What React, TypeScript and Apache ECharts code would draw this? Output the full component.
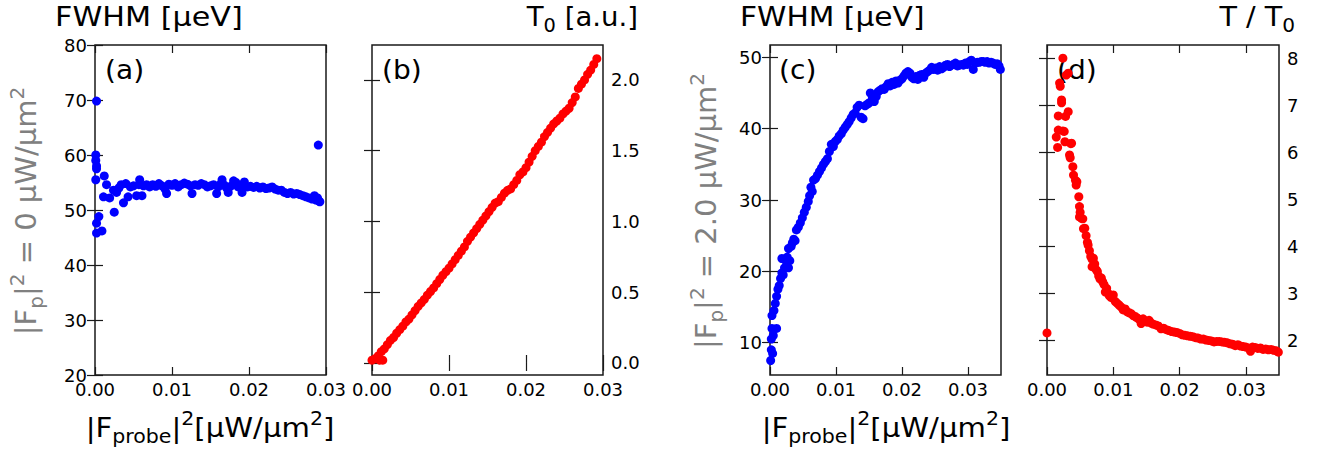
import React, { useEffect, useRef } from "react";
import * as echarts from "echarts";

// ---------- data ----------
// (a) FWHM [µeV] vs |F_probe|^2, |Fp|^2 = 0
const panelA: [number, number][] = [
  [0.0002, 69.8], [0.0001, 60.0], [0.0001, 59.0], [0.0002, 58.0], [0.0002, 57.5], [0.0001, 55.5],
  [0.0005, 48.8], [0.0002, 47.6], [0.0002, 45.8], [0.0009, 46.2], [0.0012, 56.2], [0.0015, 54.6],
  [0.0011, 52.4], [0.0019, 52.2], [0.0025, 49.6], [0.0024, 53.6], [0.0028, 53.2], [0.0031, 54.0],
  [0.0034, 54.6], [0.0037, 51.3], [0.0040, 54.8], [0.0043, 52.4], [0.0046, 54.2], [0.0050, 54.4],
  [0.0054, 52.6], [0.0057, 54.6], [0.0058, 55.5], [0.0061, 52.6], [0.0063, 54.4], [0.0067, 54.6],
  [0.0071, 54.2], [0.0075, 54.6], [0.0079, 54.3], [0.0083, 54.8], [0.0087, 54.4], [0.0091, 53.8],
  [0.0093, 53.0], [0.0096, 54.7], [0.0100, 54.5], [0.0104, 54.8], [0.0108, 54.2], [0.0112, 54.6],
  [0.0116, 54.9], [0.0120, 54.7], [0.0124, 54.4], [0.0126, 53.0], [0.0130, 54.6], [0.0134, 54.5],
  [0.0138, 54.8], [0.0142, 54.6], [0.0146, 54.2], [0.0150, 54.4], [0.0154, 54.6], [0.0158, 53.0],
  [0.0160, 54.2], [0.0163, 54.7], [0.0165, 55.5], [0.0168, 54.5], [0.0171, 54.0], [0.0173, 53.2],
  [0.0176, 54.3], [0.0180, 55.3], [0.0183, 55.0], [0.0186, 54.2], [0.0190, 54.5], [0.0191, 53.2],
  [0.0194, 55.1], [0.0198, 54.2], [0.0202, 54.3], [0.0206, 54.1], [0.0210, 54.3], [0.0214, 54.0],
  [0.0218, 54.2], [0.0222, 53.9], [0.0226, 54.0], [0.0230, 54.2], [0.0234, 53.8], [0.0238, 53.6],
  [0.0242, 53.6], [0.0246, 53.2], [0.0250, 53.0], [0.0254, 53.2], [0.0258, 52.9], [0.0262, 53.0],
  [0.0266, 52.8], [0.0270, 52.6], [0.0274, 52.4], [0.0278, 52.2], [0.0282, 52.0], [0.0285, 52.6],
  [0.0287, 51.8], [0.0289, 52.2], [0.0291, 51.6], [0.0292, 51.5], [0.0290, 61.8],
];

// (b) T0 [a.u.] vs |F_probe|^2
const panelB: [number, number][] = [
  [0.0000, 0.02], [0.0004, 0.03], [0.0008, 0.05], [0.0010, 0.02], [0.0012, 0.08], [0.0014, 0.02],
  [0.0016, 0.10], [0.0020, 0.13], [0.0024, 0.16], [0.0028, 0.18], [0.0032, 0.21], [0.0036, 0.235],
  [0.0040, 0.26], [0.0044, 0.29], [0.0048, 0.31], [0.0052, 0.34], [0.0056, 0.37], [0.0060, 0.40],
  [0.0064, 0.425], [0.0068, 0.45], [0.0072, 0.48], [0.0076, 0.505], [0.0080, 0.53], [0.0084, 0.56],
  [0.0088, 0.59], [0.0092, 0.62], [0.0096, 0.645], [0.0100, 0.67], [0.0104, 0.70], [0.0108, 0.73],
  [0.0112, 0.76], [0.0116, 0.79], [0.0120, 0.82], [0.0124, 0.86], [0.0128, 0.89], [0.0132, 0.92],
  [0.0136, 0.95], [0.0140, 0.98], [0.0144, 1.01], [0.0148, 1.04], [0.0152, 1.07], [0.0156, 1.10],
  [0.0160, 1.13], [0.0164, 1.14], [0.0168, 1.17], [0.0172, 1.20], [0.0176, 1.22], [0.0180, 1.23],
  [0.0184, 1.26], [0.0188, 1.29], [0.0192, 1.33], [0.0196, 1.35], [0.0200, 1.38], [0.0204, 1.42],
  [0.0208, 1.46], [0.0212, 1.50], [0.0216, 1.53], [0.0220, 1.56], [0.0224, 1.60], [0.0228, 1.63],
  [0.0232, 1.66], [0.0236, 1.69], [0.0240, 1.71], [0.0244, 1.73], [0.0248, 1.76], [0.0252, 1.78],
  [0.0256, 1.80], [0.0260, 1.84], [0.0264, 1.88], [0.0268, 1.94], [0.0272, 1.97], [0.0276, 2.00],
  [0.0280, 2.04], [0.0284, 2.07], [0.0288, 2.11], [0.0292, 2.15],
];

// (c) FWHM [µeV] vs |F_probe|^2, |Fp|^2 = 2.0
const panelC: [number, number][] = [
  [0.0001, 7.5], [0.0002, 9.0], [0.0002, 10.5], [0.0003, 12.0], [0.0003, 13.8], [0.0004, 8.5],
  [0.0005, 11.0], [0.0006, 14.5], [0.0008, 15.5], [0.0010, 12.0], [0.0010, 16.5], [0.0012, 17.5],
  [0.0014, 18.0], [0.0016, 19.0], [0.0018, 19.8], [0.0018, 21.8], [0.0020, 19.5], [0.0022, 20.5],
  [0.0024, 21.5], [0.0026, 22.0], [0.0028, 23.2], [0.0028, 20.5], [0.0030, 21.5], [0.0032, 23.5],
  [0.0034, 24.0], [0.0036, 24.5], [0.0038, 24.3], [0.0040, 25.8], [0.0043, 26.2], [0.0046, 26.8],
  [0.0049, 27.5], [0.0052, 28.3], [0.0055, 29.0], [0.0058, 29.8], [0.0060, 30.6], [0.0062, 31.8],
  [0.0064, 31.2], [0.0066, 32.8], [0.0069, 33.0], [0.0072, 33.5], [0.0075, 34.0], [0.0078, 34.5],
  [0.0081, 35.0], [0.0084, 35.4], [0.0087, 35.8], [0.0090, 36.8], [0.0093, 37.8], [0.0096, 37.5],
  [0.0099, 38.2], [0.0102, 38.5], [0.0105, 39.0], [0.0108, 39.3], [0.0111, 39.8], [0.0114, 40.2],
  [0.0117, 40.6], [0.0120, 41.0], [0.0123, 41.5], [0.0126, 42.0], [0.0129, 42.2], [0.0132, 43.0],
  [0.0135, 43.3], [0.0138, 41.6], [0.0141, 41.4], [0.0144, 43.2], [0.0147, 43.4], [0.0150, 43.6],
  [0.0152, 45.0], [0.0155, 44.2], [0.0158, 43.8], [0.0161, 44.5], [0.0164, 45.2], [0.0167, 45.4],
  [0.0170, 45.6], [0.0173, 45.5], [0.0176, 45.9], [0.0179, 46.3], [0.0182, 46.0], [0.0185, 46.5],
  [0.0188, 46.2], [0.0191, 46.7], [0.0194, 46.4], [0.0197, 46.8], [0.0200, 47.0], [0.0203, 47.4],
  [0.0206, 47.8], [0.0209, 48.0], [0.0212, 47.8], [0.0215, 47.2], [0.0218, 47.0], [0.0221, 47.3],
  [0.0224, 46.9], [0.0227, 47.5], [0.0230, 47.6], [0.0233, 47.2], [0.0236, 47.8], [0.0239, 48.0],
  [0.0242, 48.2], [0.0245, 48.6], [0.0248, 48.3], [0.0251, 48.5], [0.0254, 48.2], [0.0257, 48.7],
  [0.0260, 48.4], [0.0263, 48.6], [0.0266, 48.9], [0.0269, 49.0], [0.0272, 48.7], [0.0275, 48.9],
  [0.0278, 49.0], [0.0281, 49.2], [0.0284, 48.8], [0.0287, 48.9], [0.0290, 49.0], [0.0293, 48.9],
  [0.0296, 49.2], [0.0299, 49.0], [0.0302, 49.4], [0.0305, 49.6], [0.0308, 48.3], [0.0311, 49.2],
  [0.0314, 49.3], [0.0317, 49.3], [0.0320, 49.4], [0.0323, 49.4], [0.0326, 49.3], [0.0329, 49.4],
  [0.0332, 49.2], [0.0335, 49.3], [0.0338, 49.2], [0.0341, 49.0], [0.0344, 49.1], [0.0347, 48.8],
  [0.0349, 48.3],
];

// (d) T / T0 vs |F_probe|^2
const panelD: [number, number][] = [
  [0.0000, 2.15],
  [0.0014, 6.32], [0.0016, 6.10], [0.0017, 6.47], [0.0017, 6.77], [0.0019, 7.47], [0.0020, 7.40],
  [0.0022, 7.11], [0.0022, 7.05], [0.0024, 8.00], [0.0024, 6.45], [0.0026, 6.44], [0.0027, 6.22],
  [0.0028, 6.76], [0.0029, 7.64], [0.0032, 7.68], [0.0032, 6.86], [0.0034, 5.94], [0.0035, 5.88],
  [0.0037, 6.19], [0.0036, 6.18], [0.0039, 5.69], [0.0040, 5.51], [0.0043, 5.40], [0.0045, 5.37],
  [0.0044, 5.30], [0.0048, 5.05], [0.0049, 4.84], [0.0050, 4.72], [0.0049, 4.62], [0.0052, 4.59],
  [0.0054, 4.58], [0.0055, 4.37], [0.0057, 4.38], [0.0059, 4.22], [0.0061, 4.08], [0.0062, 4.02],
  [0.0064, 3.90], [0.0066, 3.78], [0.0068, 3.72], [0.0068, 3.56], [0.0070, 3.74], [0.0072, 3.62],
  [0.0074, 3.50], [0.0076, 3.46], [0.0078, 3.36], [0.0080, 3.30], [0.0082, 3.32], [0.0084, 3.24],
  [0.0086, 3.18], [0.0088, 3.02], [0.0090, 3.10], [0.0092, 3.00], [0.0094, 2.94], [0.0097, 2.90],
  [0.0100, 2.96], [0.0103, 2.82], [0.0106, 2.78], [0.0109, 2.74], [0.0112, 2.70], [0.0115, 2.64],
  [0.0118, 2.66], [0.0121, 2.60], [0.0124, 2.58], [0.0127, 2.56], [0.0130, 2.52], [0.0133, 2.50],
  [0.0136, 2.47], [0.0139, 2.44], [0.0142, 2.35], [0.0145, 2.45], [0.0148, 2.40], [0.0151, 2.38],
  [0.0154, 2.42], [0.0157, 2.36], [0.0160, 2.34], [0.0164, 2.32], [0.0168, 2.30], [0.0172, 2.24],
  [0.0176, 2.25], [0.0180, 2.22], [0.0184, 2.20], [0.0188, 2.18], [0.0192, 2.17], [0.0196, 2.16],
  [0.0200, 2.14], [0.0204, 2.11], [0.0208, 2.10], [0.0212, 2.09], [0.0216, 2.08], [0.0220, 2.07],
  [0.0224, 2.05], [0.0228, 2.04], [0.0232, 2.02], [0.0236, 2.02], [0.0240, 2.00], [0.0244, 1.99],
  [0.0248, 1.98], [0.0252, 1.96], [0.0256, 1.97], [0.0260, 1.97], [0.0264, 1.96], [0.0268, 1.95],
  [0.0272, 1.94], [0.0276, 1.92], [0.0280, 1.91], [0.0284, 1.88], [0.0288, 1.90], [0.0292, 1.87],
  [0.0296, 1.86], [0.0300, 1.85], [0.0304, 1.83], [0.0307, 1.76], [0.0310, 1.85], [0.0314, 1.84],
  [0.0318, 1.82], [0.0322, 1.83], [0.0326, 1.80], [0.0330, 1.81], [0.0334, 1.79], [0.0338, 1.80],
  [0.0342, 1.78], [0.0346, 1.77], [0.0349, 1.74],
];

// tick values
const xTicksAB = [0, 0.01, 0.02, 0.03];
const xTicksCD = [0, 0.01, 0.02, 0.03];
const yTicksA = [20, 30, 40, 50, 60, 70, 80];
const yTicksB = [0, 0.5, 1.0, 1.5, 2.0];
const yTicksC = [10, 20, 30, 40, 50];
const yTicksD = [2, 3, 4, 5, 6, 7, 8];

const FONT = "DejaVu Sans";
const INK = "#1a1a1a";

type Panel = {
  left: number;
  width: number;
  xMax: number;
  yMin: number;
  yMax: number;
  xTicks: number[];
  yTicks: number[];
  yLabelRight: boolean;
  yFmt: (v: number) => string;
  data: [number, number][];
  color: string;
};

const panels: Panel[] = [
  { left: 95, width: 231, xMax: 0.03, yMin: 20, yMax: 80, xTicks: xTicksAB, yTicks: yTicksA, yLabelRight: false, yFmt: (v) => String(Math.round(v)), data: panelA, color: "#0000ff" },
  { left: 372, width: 231, xMax: 0.03, yMin: -0.085, yMax: 2.247, xTicks: xTicksAB, yTicks: yTicksB, yLabelRight: true, yFmt: (v) => v.toFixed(1), data: panelB, color: "#ff0000" },
  { left: 770, width: 231, xMax: 0.035, yMin: 5.47, yMax: 51.73, xTicks: xTicksCD, yTicks: yTicksC, yLabelRight: false, yFmt: (v) => String(Math.round(v)), data: panelC, color: "#0000ff" },
  { left: 1047, width: 232, xMax: 0.035, yMin: 1.255, yMax: 8.28, xTicks: xTicksCD, yTicks: yTicksD, yLabelRight: true, yFmt: (v) => String(Math.round(v)), data: panelD, color: "#ff0000" },
];

const TOP = 45;
const HEIGHT = 330;

function richLabel(
  parts: [string, "n" | "sub" | "sup"][],
  size: number,
  fill: string
) {
  const text = parts.map(([t, k]) => `{${k}|${t}}`).join("");
  const small = Math.round(size * 0.7);
  return {
    text,
    fill,
    rich: {
      n: { fontFamily: FONT, fontSize: size, lineHeight: size + 10, fill, verticalAlign: "middle" },
      sub: { fontFamily: FONT, fontSize: small, lineHeight: small, fill, verticalAlign: "bottom" },
      sup: { fontFamily: FONT, fontSize: small, lineHeight: small, fill, verticalAlign: "top" },
    },
  };
}

export default function App() {
  const ref = useRef<HTMLDivElement>(null);

  useEffect(() => {
    if (!ref.current) return;
    const chart = echarts.init(ref.current, undefined, { renderer: "svg" });

    const grid: any[] = [];
    const xAxis: any[] = [];
    const yAxis: any[] = [];
    const series: any[] = [];

    const tickStyle = { show: true, inside: true, length: 8, lineStyle: { color: INK, width: 1.2 } };

    panels.forEach((p, i) => {
      grid.push({
        left: p.left,
        top: TOP,
        width: p.width,
        height: HEIGHT,
        show: true,
        borderColor: INK,
        borderWidth: 1.5,
        backgroundColor: "transparent",
      });
      // bottom x axis with labels
      xAxis.push({
        type: "value",
        gridIndex: i,
        position: "bottom",
        min: 0,
        max: p.xMax,
        axisLine: { show: false },
        splitLine: { show: false },
        axisTick: { ...tickStyle, customValues: p.xTicks },
        axisLabel: {
          show: true,
          customValues: p.xTicks,
          formatter: (v: number) => v.toFixed(2),
          fontFamily: FONT,
          fontSize: 18,
          color: "#000",
          margin: 5,
        },
      });
      // top x axis, ticks only
      xAxis.push({
        type: "value",
        gridIndex: i,
        position: "top",
        min: 0,
        max: p.xMax,
        axisLine: { show: false },
        splitLine: { show: false },
        axisTick: { ...tickStyle, customValues: p.xTicks },
        axisLabel: { show: false },
      });
      const labelled = {
        show: true,
        customValues: p.yTicks,
        formatter: p.yFmt,
        fontFamily: FONT,
        fontSize: 18,
        color: "#000",
        margin: 8,
      };
      // left y axis
      yAxis.push({
        type: "value",
        gridIndex: i,
        position: "left",
        min: p.yMin,
        max: p.yMax,
        axisLine: { show: false },
        splitLine: { show: false },
        axisTick: { ...tickStyle, customValues: p.yTicks },
        axisLabel: p.yLabelRight ? { show: false } : labelled,
      });
      // right y axis
      yAxis.push({
        type: "value",
        gridIndex: i,
        position: "right",
        min: p.yMin,
        max: p.yMax,
        axisLine: { show: false },
        splitLine: { show: false },
        axisTick: { ...tickStyle, customValues: p.yTicks },
        axisLabel: p.yLabelRight ? labelled : { show: false },
      });
      series.push({
        type: "scatter",
        xAxisIndex: i * 2,
        yAxisIndex: i * 2,
        data: p.data,
        symbol: "circle",
        symbolSize: 9,
        itemStyle: { color: p.color, opacity: 1 },
        clip: true,
        z: 1,
      });
    });

    const xName: [string, "n" | "sub" | "sup"][] = [["|F", "n"], ["probe", "sub"], ["|", "n"], ["2", "sup"], ["[µW/µm", "n"], ["2", "sup"], ["]", "n"]];

    const graphic: any[] = [
      // titles
      { type: "text", x: 55, y: 17, scaleX: 1.12, style: { ...richLabel([["FWHM [µeV]", "n"]], 27, "#000"), textAlign: "left", textVerticalAlign: "middle" } },
      { type: "text", x: 638, y: 17, scaleX: 1.02, style: { ...richLabel([["T", "n"], ["0", "sub"], [" [a.u.]", "n"]], 27, "#000"), textAlign: "right", textVerticalAlign: "middle" } },
      { type: "text", x: 740, y: 17, scaleX: 1.1, style: { ...richLabel([["FWHM [µeV]", "n"]], 27, "#000"), textAlign: "left", textVerticalAlign: "middle" } },
      { type: "text", x: 1295, y: 17, scaleX: 1.06, style: { ...richLabel([["T / T", "n"], ["0", "sub"]], 27, "#000"), textAlign: "right", textVerticalAlign: "middle" } },
      // panel labels
      { type: "text", x: 105, y: 70, scaleX: 1.08, style: { text: "(a)", fontFamily: FONT, fontSize: 26, fill: "#000", textAlign: "left", textVerticalAlign: "middle" } },
      { type: "text", x: 382, y: 70, scaleX: 1.08, style: { text: "(b)", fontFamily: FONT, fontSize: 26, fill: "#000", textAlign: "left", textVerticalAlign: "middle" } },
      { type: "text", x: 779, y: 70, scaleX: 1.08, style: { text: "(c)", fontFamily: FONT, fontSize: 26, fill: "#000", textAlign: "left", textVerticalAlign: "middle" } },
      { type: "text", x: 1057, y: 70, scaleX: 1.08, style: { text: "(d)", fontFamily: FONT, fontSize: 26, fill: "#000", textAlign: "left", textVerticalAlign: "middle" } },
      // y names (rotated, gray)
      {
        type: "text", x: 26, y: 211, rotation: Math.PI / 2,
        style: { ...richLabel([["|F", "n"], ["p", "sub"], ["|", "n"], ["2", "sup"], [" = 0 µW/µm", "n"], ["2", "sup"]], 29, "#808080"), textAlign: "center", textVerticalAlign: "middle" },
      },
      {
        type: "text", x: 706, y: 211, rotation: Math.PI / 2,
        style: { ...richLabel([["|F", "n"], ["p", "sub"], ["|", "n"], ["2", "sup"], [" = 2.0 µW/µm", "n"], ["2", "sup"]], 29, "#808080"), textAlign: "center", textVerticalAlign: "middle" },
      },
      // x names
      {
        type: "text", x: 210, y: 428, scaleX: 1.08,
        style: { ...richLabel(xName, 27, "#000"), textAlign: "center", textVerticalAlign: "middle" },
      },
      {
        type: "text", x: 886, y: 428, scaleX: 1.08,
        style: { ...richLabel(xName, 27, "#000"), textAlign: "center", textVerticalAlign: "middle" },
      },
    ];

    chart.setOption({
      animation: false,
      backgroundColor: "#ffffff",
      grid,
      xAxis,
      yAxis,
      series,
      graphic,
    });

    return () => chart.dispose();
  }, []);

  return (
    <div
      ref={ref}
      style={{ position: "fixed", left: 0, top: 0, width: 1324, height: 455 }}
    />
  );
}
